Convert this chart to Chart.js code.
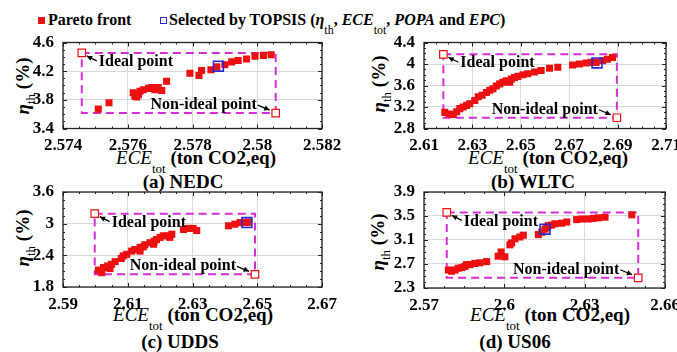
<!DOCTYPE html>
<html>
<head>
<meta charset="utf-8">
<script src="https://cdn.jsdelivr.net/npm/chart.js@4.4.1/dist/chart.umd.min.js"></script>
<style>
  html, body { margin: 0; padding: 0; width: 677px; height: 352px; overflow: hidden; background: #fff; }
  body { position: relative; font-family: "Liberation Serif", "DejaVu Serif", serif; color: #000; }
  canvas { position: absolute; }
  .txt { position: absolute; white-space: nowrap; font-weight: bold; }
  .legend { top: 10px; font-size: 16px; line-height: 20px; }
  .sw { position: absolute; width: 7px; height: 7px; box-sizing: border-box; top: 17px; }
  .xt { font-size: 19px; line-height: 19px; transform: translateX(-50%); }
  .xt i { font-weight: normal; }
  .sb { position: relative; font-size: 13px; font-weight: normal; top: 9px; }
  .cap { font-size: 19px; line-height: 19px; transform: translateX(-50%); }
  .yt { font-size: 19px; line-height: 19px; transform: translate(-50%, -50%) rotate(-90deg); }
</style>
</head>
<body>

<div class="sw" style="left:38px; background:rgb(236,16,16);"></div>
<div class="txt legend" style="left:48px;">Pareto front</div>
<div class="sw" style="left:160px; border:1.5px solid rgb(40,40,210);"></div>
<div class="txt legend" style="left:169px;">Selected by TOPSIS (<i>η</i><span class="sb" style="font-size:12px">th</span>, <i>ECE</i><span class="sb" style="font-size:12px">tot</span>, <i>POPA</i> and <i>EPC</i>)</div>

<div class="txt xt" style="left:196px; top:148px;"><i>ECE</i><span class="sb">tot</span> (ton CO2,eq)</div>
<div class="txt xt" style="left:548px; top:148px;"><i>ECE</i><span class="sb">tot</span> (ton CO2,eq)</div>
<div class="txt xt" style="left:193px; top:305px;"><i>ECE</i><span class="sb">tot</span> (ton CO2,eq)</div>
<div class="txt xt" style="left:550px; top:305px;"><i>ECE</i><span class="sb">tot</span> (ton CO2,eq)</div>

<div class="txt cap" style="left:183px; top:172px;">(a) NEDC</div>
<div class="txt cap" style="left:533px; top:172px;">(b) WLTC</div>
<div class="txt cap" style="left:180px; top:332px;">(c) UDDS</div>
<div class="txt cap" style="left:515px; top:332px;">(d) US06</div>

<div class="txt yt" style="left:23px; top:86px;"><i>η</i><span class="sb" style="top:6px">th</span> (%)</div>
<div class="txt yt" style="left:379px; top:84px;"><i>η</i><span class="sb" style="top:6px">th</span> (%)</div>
<div class="txt yt" style="left:23px; top:238px;"><i>η</i><span class="sb" style="top:6px">th</span> (%)</div>
<div class="txt yt" style="left:378px; top:242px;"><i>η</i><span class="sb" style="top:6px">th</span> (%)</div>

<script>
// (a) NEDC
const nedcEce = [2.57509, 2.57542, 2.57617, 2.57622, 2.57628, 2.57633, 2.57638, 2.57648, 2.57664, 2.57674, 2.57684, 2.57694, 2.57705, 2.57720, 2.57792, 2.57820, 2.57828, 2.57857, 2.57875, 2.57900, 2.57921, 2.57941, 2.57967, 2.57993, 2.58019, 2.58043];
const nedcEta = [3.67, 3.76, 3.90, 3.85, 3.84, 3.87, 3.92, 3.94, 3.96, 3.97, 3.94, 3.97, 3.93, 4.06, 4.17, 4.14, 4.21, 4.22, 4.26, 4.29, 4.33, 4.35, 4.37, 4.41, 4.42, 4.43];
const nedcPick = [2.5788, 4.27];
const nedcIdeal = [2.57458, 4.455];
const nedcWorst = [2.58057, 3.615];
const nedcXTicks = [2.574, 2.576, 2.578, 2.58, 2.582];
const nedcYTicks = [3.4, 3.8, 4.2, 4.6];

// (b) WLTC
const wltcEce = [2.6186, 2.6203, 2.6221, 2.6235, 2.6248, 2.6262, 2.6276, 2.6289, 2.6310, 2.6324, 2.6340, 2.6358, 2.6372, 2.6385, 2.6399, 2.6413, 2.6426, 2.6440, 2.6454, 2.6461, 2.6474, 2.6488, 2.6509, 2.6529, 2.6557, 2.6584, 2.6619, 2.6653, 2.6714, 2.6742, 2.6770, 2.6790, 2.6811, 2.6838, 2.6858, 2.6879];
const wltcEta = [3.10, 3.07, 3.06, 3.11, 3.17, 3.20, 3.23, 3.26, 3.32, 3.39, 3.42, 3.47, 3.51, 3.54, 3.59, 3.63, 3.66, 3.69, 3.66, 3.72, 3.75, 3.77, 3.80, 3.82, 3.85, 3.88, 3.92, 3.94, 3.98, 4.00, 4.02, 4.03, 4.03, 4.06, 4.09, 4.12];
const wltcPick = [2.6815, 4.02];
const wltcIdeal = [2.618, 4.18];
const wltcWorst = [2.6897, 3.0];
const wltcXTicks = [2.61, 2.63, 2.65, 2.67, 2.69, 2.71];
const wltcYTicks = [2.8, 3.2, 3.6, 4, 4.4];

// (c) UDDS
const uddsEce = [2.6009, 2.6020, 2.6025, 2.6038, 2.6045, 2.6050, 2.6061, 2.6080, 2.6086, 2.6097, 2.6112, 2.6122, 2.6138, 2.6138, 2.6148, 2.6153, 2.6169, 2.6180, 2.6182, 2.6189, 2.6200, 2.6210, 2.6225, 2.6230, 2.6236, 2.6272, 2.6287, 2.6302, 2.6313, 2.6411, 2.6431, 2.6447, 2.6467, 2.6472];
const uddsEta = [2.12, 2.07, 2.17, 2.20, 2.15, 2.23, 2.28, 2.34, 2.39, 2.42, 2.48, 2.51, 2.55, 2.48, 2.56, 2.60, 2.64, 2.61, 2.67, 2.70, 2.74, 2.77, 2.77, 2.74, 2.80, 2.89, 2.91, 2.91, 2.87, 2.96, 2.99, 3.02, 3.02, 3.03];
const uddsPick = [2.6468, 3.02];
const uddsIdeal = [2.5998, 3.19];
const uddsWorst = [2.6493, 2.04];
const uddsXTicks = [2.59, 2.61, 2.63, 2.65, 2.67];
const uddsYTicks = [1.8, 2.4, 3, 3.6];

// (d) US06
const us06Ece = [2.5791, 2.5803, 2.5816, 2.5828, 2.5841, 2.5853, 2.5859, 2.5872, 2.5890, 2.5909, 2.5934, 2.5977, 2.5988, 2.6002, 2.6021, 2.6027, 2.6040, 2.6058, 2.6071, 2.6127, 2.6140, 2.6152, 2.6158, 2.6164, 2.6177, 2.6189, 2.6214, 2.6233, 2.6270, 2.6289, 2.6314, 2.6332, 2.6351, 2.6376, 2.6476];
const us06Eta = [2.60, 2.58, 2.60, 2.63, 2.64, 2.66, 2.69, 2.69, 2.71, 2.72, 2.74, 2.83, 2.90, 2.82, 3.02, 3.05, 3.12, 3.15, 3.18, 3.19, 3.23, 3.28, 3.31, 3.34, 3.35, 3.37, 3.38, 3.40, 3.44, 3.45, 3.45, 3.46, 3.47, 3.48, 3.52];
const us06Pick = [2.6152, 3.28];
const us06Ideal = [2.5785, 3.56];
const us06Worst = [2.65, 2.47];
const us06XTicks = [2.57, 2.6, 2.63, 2.66];
const us06YTicks = [2.3, 2.7, 3.1, 3.5, 3.9];

const RED = 'rgb(236,16,16)';
const BLUE = 'rgb(40,40,210)';
const MAGENTA = 'rgb(214,46,214)';
const SERIF = '"Liberation Serif", "DejaVu Serif", serif';

// canvas placement: left, top, width, height, y-axis width, top pad, x-axis height, right pad
const panels = [
  { ece: nedcEce, eta: nedcEta, pick: nedcPick, ideal: nedcIdeal, worst: nedcWorst, xt: nedcXTicks, yt: nedcYTicks, at: [0, 30, 345, 125, 63, 12.5, 26.5, 23] },
  { ece: wltcEce, eta: wltcEta, pick: wltcPick, ideal: wltcIdeal, worst: wltcWorst, xt: wltcXTicks, yt: wltcYTicks, at: [360, 30, 330, 125, 64, 12.5, 26.5, 24] },
  { ece: uddsEce, eta: uddsEta, pick: uddsPick, ideal: uddsIdeal, worst: uddsWorst, xt: uddsXTicks, yt: uddsYTicks, at: [0, 180, 345, 135, 63, 12, 28, 23] },
  { ece: us06Ece, eta: us06Eta, pick: us06Pick, ideal: us06Ideal, worst: us06Worst, xt: us06XTicks, yt: us06YTicks, at: [360, 180, 330, 135, 64, 12, 27, 25] }
];

function arrow (ctx, x0, y0, x1, y1) {
  const a = Math.atan2(y1 - y0, x1 - x0);
  ctx.beginPath();
  ctx.moveTo(x0, y0);
  ctx.lineTo(x1, y1);
  ctx.stroke();
  ctx.beginPath();
  ctx.moveTo(x1, y1);
  ctx.lineTo(x1 - 6 * Math.cos(a - 0.45), y1 - 6 * Math.sin(a - 0.45));
  ctx.lineTo(x1 - 6 * Math.cos(a + 0.45), y1 - 6 * Math.sin(a + 0.45));
  ctx.closePath();
  ctx.fill();
}

// MATLAB-like box with inward ticks, plus the two point labels
const framePlugin = {
  id: 'frame',
  afterDraw (chart, args, o) {
    const { ctx, chartArea: a } = chart;
    const sx = chart.scales.x;
    const sy = chart.scales.y;
    ctx.save();
    ctx.strokeStyle = '#222';
    ctx.lineWidth = 1;
    ctx.beginPath();
    const marks = (scale, horiz) => {
      const vals = scale.ticks.map(t => t.value);
      vals.forEach((v, i) => {
        const list = [[v, 4]];
        if (i < vals.length - 1) {
          for (let k = 1; k < 4; k++) list.push([v + (vals[i + 1] - v) * k / 4, 2]);
        }
        list.forEach(([mv, len]) => {
          const p = Math.round(scale.getPixelForValue(mv)) + 0.5;
          if (horiz) {
            ctx.moveTo(p, a.bottom); ctx.lineTo(p, a.bottom - len);
            ctx.moveTo(p, a.top); ctx.lineTo(p, a.top + len);
          } else {
            ctx.moveTo(a.left, p); ctx.lineTo(a.left + len, p);
            ctx.moveTo(a.right, p); ctx.lineTo(a.right - len, p);
          }
        });
      });
    };
    marks(sx, true);
    marks(sy, false);
    ctx.stroke();
    ctx.lineWidth = 1.3;
    ctx.strokeRect(a.left, a.top, a.right - a.left, a.bottom - a.top);

    ctx.fillStyle = '#000';
    ctx.strokeStyle = '#000';
    ctx.lineWidth = 1.2;
    ctx.font = 'bold 16px ' + SERIF;
    ctx.textBaseline = 'middle';
    const ix = sx.getPixelForValue(o.ideal[0]);
    const iy = sy.getPixelForValue(o.ideal[1]);
    ctx.textAlign = 'left';
    ctx.fillText('Ideal point', ix + 17, iy + 9);
    arrow(ctx, ix + 15, iy + 8, ix + 5, iy + 3);
    const wx = sx.getPixelForValue(o.worst[0]);
    const wy = sy.getPixelForValue(o.worst[1]);
    ctx.textAlign = 'right';
    ctx.fillText('Non-ideal point', wx - 19, wy - 8);
    arrow(ctx, wx - 18, wy - 8, wx - 6, wy - 3);
    ctx.restore();
  }
};

const tickFont = { family: SERIF, size: 17, weight: 'bold' };

panels.forEach(p => {
  const [left, top, w, h, yw, pt, xh, pr] = p.at;
  const cv = document.createElement('canvas');
  cv.width = w;
  cv.height = h;
  cv.style.left = left + 'px';
  cv.style.top = top + 'px';
  document.body.appendChild(cv);

  const ideal = { x: p.ideal[0], y: p.ideal[1] };
  const worst = { x: p.worst[0], y: p.worst[1] };
  const box = [ideal, { x: worst.x, y: ideal.y }, worst, { x: ideal.x, y: worst.y }, ideal];

  new Chart(cv, {
    type: 'scatter',
    data: {
      datasets: [
        { data: [{ x: p.pick[0], y: p.pick[1] }], pointStyle: 'rect', pointRadius: 7, backgroundColor: 'rgba(0,0,0,0)', borderColor: BLUE, borderWidth: 1.6, order: 0 },
        { data: [ideal, worst], pointStyle: 'rect', pointRadius: 5.3, backgroundColor: '#fff', borderColor: RED, borderWidth: 1.2, order: 1 },
        { data: p.ece.map((v, i) => ({ x: v, y: p.eta[i] })), pointStyle: 'rect', pointRadius: 5, backgroundColor: RED, borderWidth: 0, order: 2 },
        { data: box, showLine: true, borderColor: MAGENTA, borderWidth: 2, borderDash: [8, 5], pointRadius: 0, fill: false, order: 3 }
      ]
    },
    options: {
      responsive: false,
      animation: false,
      events: [],
      layout: { padding: { left: 0, top: pt, right: pr, bottom: 0 } },
      plugins: {
        legend: { display: false },
        tooltip: { enabled: false },
        frame: { ideal: p.ideal, worst: p.worst }
      },
      scales: {
        x: {
          type: 'linear',
          min: p.xt[0],
          max: p.xt[p.xt.length - 1],
          afterBuildTicks: s => { s.ticks = p.xt.map(v => ({ value: v })); },
          afterFit: s => { s.height = xh; s.paddingLeft = 0; s.paddingRight = 0; },
          grid: { color: '#d9d9d9', drawTicks: false },
          border: { display: false },
          ticks: { color: '#000', font: tickFont, padding: 7, maxRotation: 0, autoSkip: false, callback: v => String(v) }
        },
        y: {
          type: 'linear',
          min: p.yt[0],
          max: p.yt[p.yt.length - 1],
          afterBuildTicks: s => { s.ticks = p.yt.map(v => ({ value: v })); },
          afterFit: s => { s.width = yw; s.paddingTop = 0; s.paddingBottom = 0; },
          grid: { color: '#d9d9d9', drawTicks: false },
          border: { display: false },
          ticks: { color: '#000', font: tickFont, padding: 9, autoSkip: false, callback: v => String(v) }
        }
      }
    },
    plugins: [framePlugin]
  });
});
</script>
</body>
</html>
